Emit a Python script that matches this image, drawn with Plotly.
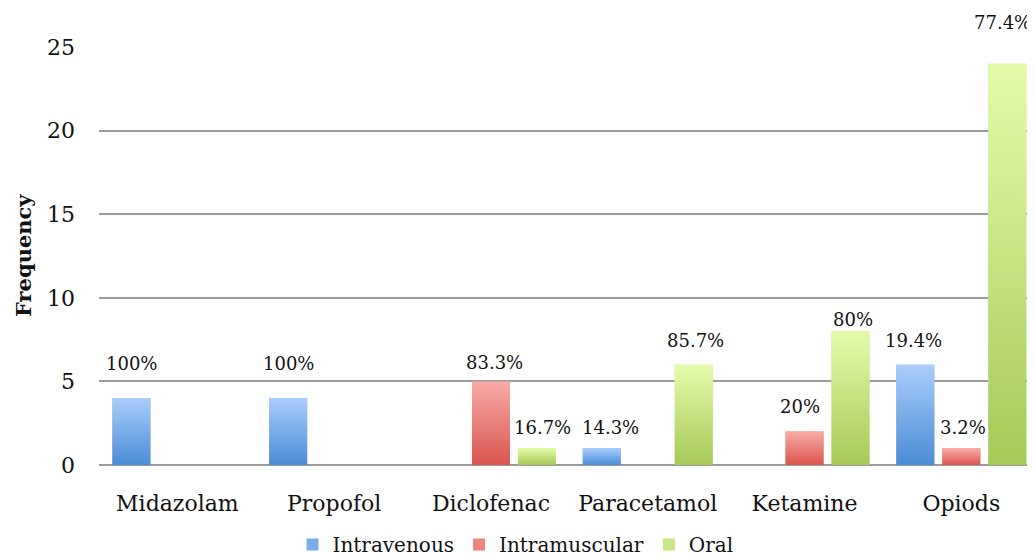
import plotly.graph_objects as go

# ---- data ----
categories = ["Midazolam", "Propofol", "Diclofenac", "Paracetamol", "Ketamine", "Opiods"]
series_names = ["Intravenous", "Intramuscular", "Oral"]
intravenous = [4, 4, 0, 1, 0, 6]
intramuscular = [0, 0, 5, 0, 2, 1]
oral = [0, 0, 1, 6, 8, 24]
intravenous_labels = ["100%", "100%", "", "14.3%", "", "19.4%"]
intramuscular_labels = ["", "", "83.3%", "", "20%", "3.2%"]
oral_labels = ["", "", "16.7%", "85.7%", "80%", "77.4%"]
y_ticks = [0, 5, 10, 15, 20, 25]

# ---- style ----
FONT = "DejaVu Serif"
solid_colors = ["#7aaeea", "#ec8580", "#c7e686"]
grad_top = ["#aacdfc", "#f9aba6", "#e4fcaa"]
grad_bottom = ["#4a8cd5", "#d9554f", "#a6c957"]
# per-label pixel offsets (dx, dy above bar top) to mimic manual label placement
label_dx = [[0, 0, 0, 9, 0, -2], [0, 0, 4, 0, -5, 2], [0, 0, 6, 2, 2, -5]]
label_dy = [[35, 35, 0, 21, 0, 24], [0, 0, 19, 0, 25, 21], [0, 0, 21, 24, 12, 41]]

bargap = 0.12
bargroupgap = 0.174
slot = (1 - bargap) / 3
bar_w = slot * (1 - bargroupgap)

values = [intravenous, intramuscular, oral]
labels = [intravenous_labels, intramuscular_labels, oral_labels]
xi = list(range(len(categories)))

fig = go.Figure()

# real bar traces (data + legend)
for k, name in enumerate(series_names):
    fig.add_trace(go.Bar(
        x=xi, y=values[k], name=name,
        marker=dict(color=solid_colors[k], line=dict(width=0)),
        hoverinfo="x+y+name",
    ))

# gradient overlays for each bar (computed from the same data & group geometry)
for k in range(3):
    for i, v in enumerate(values[k]):
        if v <= 0:
            continue
        cx = i + (k - 1) * slot
        x0, x1 = cx - bar_w / 2, cx + bar_w / 2
        fig.add_trace(go.Scatter(
            x=[x0, x1, x1, x0, x0], y=[0, 0, v, v, 0],
            mode="lines", line=dict(width=0),
            fill="toself",
            fillgradient=dict(type="vertical",
                              colorscale=[[0, grad_bottom[k]], [1, grad_top[k]]]),
            showlegend=False, hoverinfo="skip",
        ))

# data labels
annotations = []
for k in range(3):
    for i, v in enumerate(values[k]):
        t = labels[k][i]
        if not t:
            continue
        annotations.append(dict(
            x=i + (k - 1) * slot, y=v, xref="x", yref="y",
            text=t, showarrow=False, xanchor="center", yanchor="middle",
            xshift=label_dx[k][i], yshift=label_dy[k][i],
            font=dict(family=FONT, size=18, color="#111111"),
        ))

annotations.append(dict(
    x=0, y=0.5, xref="paper", yref="paper", xshift=-76,
    text="<b>Frequency</b>", textangle=-90, showarrow=False,
    xanchor="center", yanchor="middle",
    font=dict(family=FONT, size=21, color="#111111"),
))

# page body has an 8px default margin; size the figure so the plot sits where the reference has it
fig.update_layout(
    width=1027, height=550,
    margin=dict(l=91, r=0, t=39, b=93, autoexpand=False),
    paper_bgcolor="white", plot_bgcolor="white",
    barmode="group", bargap=bargap, bargroupgap=bargroupgap,
    showlegend=True,
    legend=dict(orientation="h", x=0.445, xanchor="center", y=-0.19, yanchor="middle",
                font=dict(family=FONT, size=20, color="#111111"),
                itemclick=False, itemdoubleclick=False),
    annotations=annotations,
    font=dict(family=FONT, color="#111111"),
)
fig.update_xaxes(
    range=[-0.5, 5.47], tickmode="array", tickvals=xi, ticktext=categories,
    showgrid=False, zeroline=False, showline=False, automargin=False,
    tickfont=dict(family=FONT, size=22, color="#111111"),
    ticklabelstandoff=23,
)
fig.update_yaxes(
    range=[0, 25], tickmode="array", tickvals=y_ticks,
    showgrid=True, gridcolor="#9c9c9c", gridwidth=1.5,
    zeroline=True, zerolinecolor="#9c9c9c", zerolinewidth=1.5,
    showline=False, automargin=False,
    tickfont=dict(family=FONT, size=22, color="#111111"),
    ticklabelstandoff=23,
)

fig.write_html("out.html")
